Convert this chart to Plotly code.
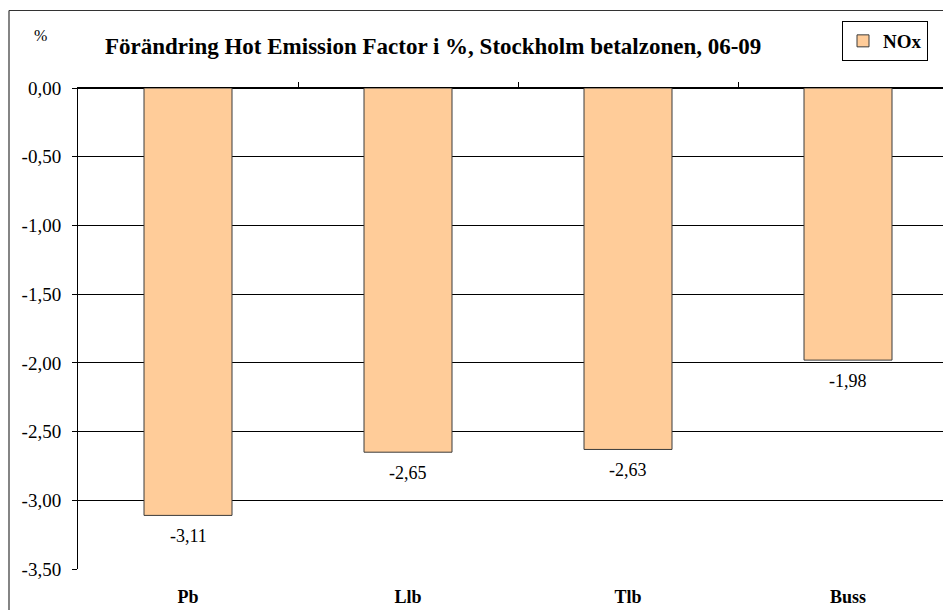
import plotly.graph_objects as go

# Chart data
categories = ["Pb", "Llb", "Tlb", "Buss"]
nox_change = [-3.11, -2.65, -2.63, -1.98]
y_tick_values = [0.0, -0.5, -1.0, -1.5, -2.0, -2.5, -3.0, -3.5]
y_tick_labels = ["0,00", "-0,50", "-1,00", "-1,50", "-2,00", "-2,50", "-3,00", "-3,50"]
series_name = "NOx"
title_text = "Förändring Hot Emission Factor i %, Stockholm betalzonen, 06-09"
unit_text = "%"

SERIF = "Liberation Serif"
W, H = 943, 610
ML, MT, MB = 78, 88, 41
PW = W - ML
PH = H - MT - MB
CAT_W = 220.0  # pixel width of one category slot
x_range = [-0.5, -0.5 + PW / CAT_W]


def fmt(v):
    return f"{v:.2f}".replace(".", ",")


def px_x(px):
    return (px - ML) / PW


def px_y(py):
    return 1 + (MT - py) / PH


fig = go.Figure()
fig.add_trace(go.Bar(
    x=list(range(len(categories))),
    y=nox_change,
    name=series_name,
    marker=dict(color="#FFCC99", line=dict(color="#3a3a3a", width=1)),
    width=0.4,
    hoverinfo="skip",
))
# helper trace so the top category axis (boundary ticks) is drawn
fig.add_trace(go.Scatter(
    x=[0, 1], y=[0, 0], xaxis="x2", mode="markers",
    marker=dict(opacity=0), showlegend=False, hoverinfo="skip",
))

# value labels under each bar
for i, v in enumerate(nox_change):
    fig.add_annotation(
        x=i, y=v, text=fmt(v), showarrow=False, yanchor="top", yshift=-9,
        font=dict(family=SERIF, size=18, color="black"),
    )

fig.add_annotation(
    xref="x domain", yref="y domain", x=px_x(433), y=px_y(46),
    text=f"<b>{title_text}</b>", showarrow=False, xanchor="center", yanchor="middle",
    font=dict(family=SERIF, size=23, color="black"),
)
fig.add_annotation(
    xref="x domain", yref="y domain", x=px_x(40), y=px_y(35), text=unit_text,
    showarrow=False, xanchor="center", yanchor="middle",
    font=dict(family=SERIF, size=16, color="black"),
)

# outer chart frame (left and top edges visible)
fig.add_shape(type="line", xref="x domain", yref="y domain",
              x0=px_x(9), x1=px_x(9), y0=-0.2, y1=px_y(10.5),
              line=dict(color="#333333", width=1.2))
fig.add_shape(type="line", xref="x domain", yref="y domain",
              x0=px_x(9), x1=1.2, y0=px_y(10.5), y1=px_y(10.5),
              line=dict(color="#333333", width=1.2))

fig.update_layout(
    width=W, height=H,
    margin=dict(l=ML, r=0, t=MT, b=MB, pad=0),
    paper_bgcolor="white", plot_bgcolor="white",
    font=dict(family=SERIF, color="black"),
    bargap=0.6,
    showlegend=True,
    legend=dict(
        x=px_x(928), y=px_y(21), xanchor="right", yanchor="top",
        bordercolor="black", borderwidth=1, bgcolor="white",
        font=dict(family=SERIF, size=19, color="black", weight="bold"),
        itemwidth=30, tracegroupgap=0,
    ),
    xaxis=dict(
        range=x_range, tickmode="array",
        tickvals=list(range(len(categories))), ticktext=[f"<b>{c}</b>" for c in categories],
        ticks="", showgrid=False, showline=False, zeroline=False,
        tickfont=dict(family=SERIF, size=18, color="black"),
        ticklabelstandoff=15,
    ),
    xaxis2=dict(
        range=x_range, overlaying="x", side="top", anchor="y",
        tickmode="array", tickvals=[0.5, 1.5, 2.5], ticks="outside",
        ticklen=5, tickcolor="black", tickwidth=1,
        showticklabels=False, showgrid=False, showline=True,
        linecolor="black", linewidth=1, zeroline=False,
    ),
    yaxis=dict(
        range=[-3.5, 0], tickmode="array", tickvals=y_tick_values, ticktext=y_tick_labels,
        ticks="outside", ticklen=5, tickcolor="black", tickwidth=1,
        showgrid=True, gridcolor="black", gridwidth=1,
        showline=True, linecolor="black", linewidth=1,
        zeroline=True, zerolinecolor="black", zerolinewidth=1,
        tickfont=dict(family=SERIF, size=19, color="black"),
        ticklabelstandoff=7,
    ),
)

fig.write_html("out.html")
